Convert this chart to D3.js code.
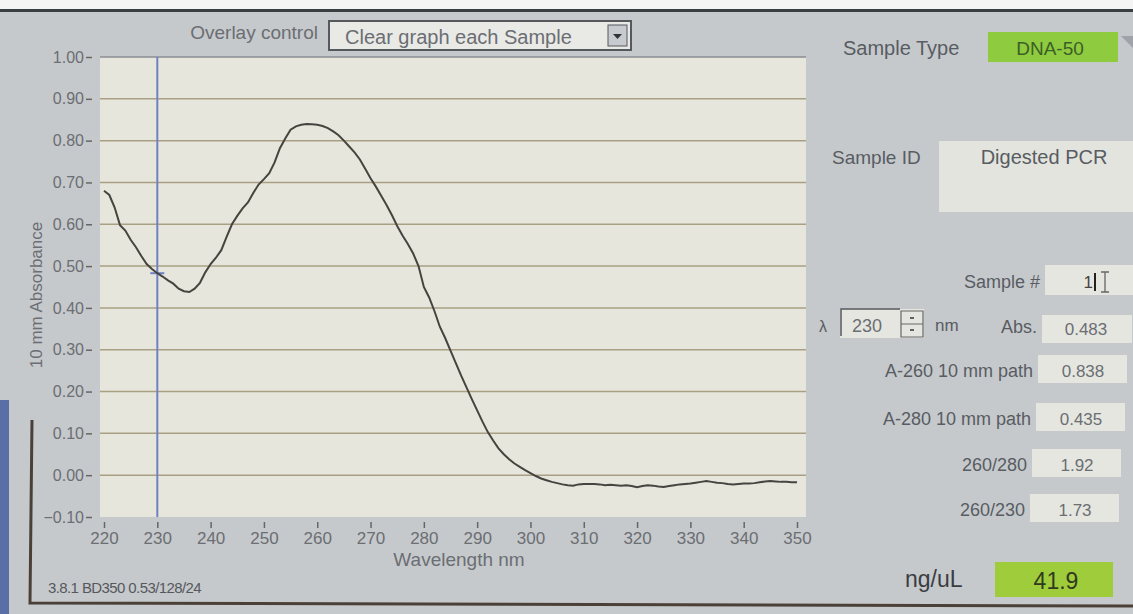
<!DOCTYPE html>
<html>
<head>
<meta charset="utf-8">
<title>NanoDrop spectrum</title>
<script src="https://cdn.jsdelivr.net/npm/d3@7"></script>
<style>
  body { margin: 0; background: #c6c9cc; }
  svg { display: block; font-family: "Liberation Sans", Arial, sans-serif; }
</style>
</head>
<body>
<script>
// Width and Height
var w = 1133;
var h = 614;

// wavelengths 220..350 nm, one reading per nm
var wavelengths = d3.range(220, 351);
var absorbance = [
  0.680, 0.670, 0.640, 0.598, 0.585, 0.563, 0.545, 0.524, 0.505, 0.493,
  0.483, 0.475, 0.466, 0.458, 0.446, 0.440, 0.438, 0.446, 0.460, 0.485,
  0.505, 0.520, 0.538, 0.570, 0.600, 0.620, 0.638, 0.652, 0.675, 0.695,
  0.708, 0.722, 0.748, 0.782, 0.805, 0.826, 0.834, 0.838, 0.840, 0.839,
  0.838, 0.835, 0.830, 0.822, 0.813, 0.800, 0.786, 0.772, 0.755, 0.733,
  0.710, 0.690, 0.668, 0.646, 0.622, 0.596, 0.573, 0.553, 0.530, 0.500,
  0.450, 0.425, 0.392, 0.355, 0.328, 0.298, 0.268, 0.238, 0.210, 0.182,
  0.155, 0.128, 0.103, 0.083, 0.064, 0.050, 0.038, 0.028, 0.020, 0.012,
  0.005, -0.002, -0.008, -0.012, -0.016, -0.019, -0.022, -0.024, -0.025, -0.022,
  -0.021, -0.021, -0.021, -0.022, -0.024, -0.023, -0.024, -0.025, -0.024, -0.026,
  -0.029, -0.026, -0.024, -0.025, -0.027, -0.028, -0.026, -0.024, -0.022, -0.021,
  -0.020, -0.018, -0.016, -0.014, -0.016, -0.018, -0.019, -0.021, -0.022, -0.021,
  -0.020, -0.020, -0.019, -0.017, -0.015, -0.014, -0.015, -0.016, -0.016, -0.017,
  -0.017
];

var xTicks = [220, 230, 240, 250, 260, 270, 280, 290, 300, 310, 320, 330, 340, 350];
var yTicks = [-0.10, 0.00, 0.10, 0.20, 0.30, 0.40, 0.50, 0.60, 0.70, 0.80, 0.90, 1.00];
var cursorNm = 230;

// readout panel
var readLabels = ["A-260 10 mm path", "A-280 10 mm path", "260/280", "260/230"];
var readValues = ["0.838", "0.435", "1.92", "1.73"];
var absValue = "0.483";
var concValue = "41.9";
var sampleType = "DNA-50";
var sampleId = "Digested PCR";
var sampleNum = "1";
var overlayChoice = "Clear graph each Sample";
var footer = "3.8.1 BD350 0.53/128/24";

var plot = {left: 100, right: 806, top: 57, bottom: 517};
var labelColor = "#585c63";
var valueColor = "#6b6e73";

var svg = d3.select("body")
            .append("svg")
            .attr("width", w)
            .attr("height", h);

// screen frame (photo edges)
svg.append("rect").attr("x", 0).attr("y", 0).attr("width", w).attr("height", 9).attr("fill", "#f4f4f4");
svg.append("rect").attr("x", 0).attr("y", 9).attr("width", w).attr("height", 3).attr("fill", "#3a3d42");
svg.append("rect").attr("x", 0).attr("y", 400).attr("width", 9).attr("height", 214).attr("fill", "#5a6fa8");
svg.append("path")
   .attr("d", "M32,420 L30,603 L1133,606")
   .attr("fill", "none").attr("stroke", "#4a4038").attr("stroke-width", 3);

var x = d3.scaleLinear().domain([220, 350]).range([plot.left + 4, 797]);
var y = d3.scaleLinear().domain([-0.10, 1.00]).range([plot.bottom, plot.top]);

// plot background
svg.append("rect")
   .attr("x", plot.left).attr("y", plot.top)
   .attr("width", plot.right - plot.left).attr("height", plot.bottom - plot.top)
   .attr("fill", "#e7e6dd");
svg.append("line")
   .attr("x1", plot.left).attr("x2", plot.right)
   .attr("y1", plot.top).attr("y2", plot.top)
   .attr("stroke", "#8a8d92").attr("stroke-width", 1.5);

// gridlines
svg.selectAll("line.grid")
   .data(yTicks.filter(function(d) { return d > -0.1 && d < 1.0; }))
   .enter()
   .append("line")
   .attr("class", "grid")
   .attr("x1", plot.left).attr("x2", plot.right)
   .attr("y1", function(d) { return y(d); })
   .attr("y2", function(d) { return y(d); })
   .attr("stroke", "#a9a084")
   .attr("stroke-width", 1.5);

// y axis
var yAxis = svg.append("g")
   .attr("transform", "translate(" + (plot.left - 14) + ",0)")
   .call(d3.axisRight(y).tickValues(yTicks).tickSize(6).tickFormat(d3.format(".2f")));
yAxis.select(".domain").remove();
yAxis.selectAll("line").attr("stroke", "#666").attr("stroke-width", 1.5);
yAxis.selectAll("text")
   .attr("text-anchor", "end")
   .attr("x", -2)
   .attr("font-size", "16px")
   .attr("fill", valueColor)
   .attr("font-family", "Liberation Sans, Arial, sans-serif");

// x axis
var xAxis = svg.append("g")
   .attr("transform", "translate(0," + (plot.bottom + 5) + ")")
   .call(d3.axisBottom(x).tickValues(xTicks).tickSize(6).tickPadding(4));
xAxis.select(".domain").remove();
xAxis.selectAll("line").attr("stroke", "#666").attr("stroke-width", 1.5);
xAxis.selectAll("text")
   .attr("font-size", "17px")
   .attr("fill", valueColor)
   .attr("font-family", "Liberation Sans, Arial, sans-serif");

svg.append("text")
   .attr("x", 459).attr("y", 566)
   .attr("text-anchor", "middle")
   .attr("font-size", "19px").attr("fill", valueColor)
   .text("Wavelength nm");

svg.append("text")
   .attr("transform", "translate(42,295) rotate(-90)")
   .attr("text-anchor", "middle")
   .attr("font-size", "17px").attr("fill", valueColor)
   .text("10 mm Absorbance");

// cursor line
svg.append("line")
   .attr("x1", x(cursorNm)).attr("x2", x(cursorNm))
   .attr("y1", plot.top).attr("y2", plot.bottom)
   .attr("stroke", "#6f80c4").attr("stroke-width", 2);
var cursorAbs = absorbance[wavelengths.indexOf(cursorNm)];
svg.append("line")
   .attr("x1", x(cursorNm) - 7).attr("x2", x(cursorNm) + 7)
   .attr("y1", y(cursorAbs)).attr("y2", y(cursorAbs))
   .attr("stroke", "#6f80c4").attr("stroke-width", 2);

// spectrum
var line = d3.line()
   .x(function(d, i) { return x(wavelengths[i]); })
   .y(function(d) { return y(d); });

svg.append("path")
   .datum(absorbance)
   .attr("d", line)
   .attr("fill", "none")
   .attr("stroke", "#45443f")
   .attr("stroke-width", 2);

// overlay control
svg.append("text")
   .attr("x", 318).attr("y", 39)
   .attr("text-anchor", "end")
   .attr("font-size", "19px").attr("fill", valueColor)
   .text("Overlay control");
svg.append("rect")
   .attr("x", 329).attr("y", 21).attr("width", 302).attr("height", 29)
   .attr("fill", "#e9e9e6").attr("stroke", "#55585d").attr("stroke-width", 2);
svg.append("text")
   .attr("x", 345).attr("y", 44)
   .attr("font-size", "20px").attr("fill", valueColor)
   .text(overlayChoice);
svg.append("rect")
   .attr("x", 608).attr("y", 25).attr("width", 19).attr("height", 21)
   .attr("fill", "#c7cacf").attr("stroke", "#55585d").attr("stroke-width", 1);
svg.append("path")
   .attr("d", "M613,34 L622,34 L617.5,39 Z")
   .attr("fill", "#333");

// sample type
svg.append("text")
   .attr("x", 843).attr("y", 55)
   .attr("font-size", "20px").attr("fill", labelColor)
   .text("Sample Type");
svg.append("rect")
   .attr("x", 988).attr("y", 32).attr("width", 130).attr("height", 30)
   .attr("fill", "#8fcb3e");
svg.append("text")
   .attr("x", 1050).attr("y", 55)
   .attr("text-anchor", "middle")
   .attr("font-size", "19px").attr("fill", "#3d5e28")
   .text(sampleType);
svg.append("path")
   .attr("d", "M1121,36 L1133,36 L1133,48 Z")
   .attr("fill", "#9ea3aa");

// sample id
svg.append("text")
   .attr("x", 832).attr("y", 164)
   .attr("font-size", "19px").attr("fill", labelColor)
   .text("Sample ID");
svg.append("rect")
   .attr("x", 939).attr("y", 141).attr("width", 194).attr("height", 71)
   .attr("fill", "#e3e4de");
svg.append("text")
   .attr("x", 1044).attr("y", 164)
   .attr("text-anchor", "middle")
   .attr("font-size", "20px").attr("fill", labelColor)
   .text(sampleId);

// sample #
svg.append("text")
   .attr("x", 1040).attr("y", 288)
   .attr("text-anchor", "end")
   .attr("font-size", "18px").attr("fill", labelColor)
   .text("Sample #");
svg.append("rect")
   .attr("x", 1045).attr("y", 265).attr("width", 88).attr("height", 30)
   .attr("fill", "#e6e6e0");
svg.append("text")
   .attr("x", 1093).attr("y", 288)
   .attr("text-anchor", "end")
   .attr("font-size", "17px").attr("fill", "#444")
   .text(sampleNum);
svg.append("line")
   .attr("x1", 1095).attr("x2", 1095).attr("y1", 273).attr("y2", 291)
   .attr("stroke", "#222").attr("stroke-width", 2);
svg.append("path")
   .attr("d", "M1101,272 L1109,272 M1105,272 L1105,292 M1101,292 L1109,292")
   .attr("fill", "none").attr("stroke", "#666").attr("stroke-width", 1.3);

// lambda selector
svg.append("text")
   .attr("x", 819).attr("y", 332)
   .attr("font-size", "16px").attr("fill", labelColor)
   .text("λ");
svg.append("rect")
   .attr("x", 840).attr("y", 309).attr("width", 84).attr("height", 29)
   .attr("fill", "#e6e6e0");
svg.append("path")
   .attr("d", "M841,336 L841,309 L900,309")
   .attr("fill", "none").attr("stroke", "#55585d").attr("stroke-width", 1.5);
svg.append("text")
   .attr("x", 852).attr("y", 332)
   .attr("font-size", "18px").attr("fill", valueColor)
   .text(String(cursorNm));
svg.append("path")
   .attr("d", "M901,311 L923,311 L923,337 L901,337 Z M901,324 L923,324")
   .attr("fill", "none").attr("stroke", "#666").attr("stroke-width", 1.2);
svg.append("path")
   .attr("d", "M910,318 L914,318 M910,330 L914,330")
   .attr("stroke", "#333").attr("stroke-width", 1.5);
svg.append("text")
   .attr("x", 935).attr("y", 331)
   .attr("font-size", "17px").attr("fill", labelColor)
   .text("nm");
svg.append("text")
   .attr("x", 1037).attr("y", 333)
   .attr("text-anchor", "end")
   .attr("font-size", "18px").attr("fill", labelColor)
   .text("Abs.");
svg.append("rect")
   .attr("x", 1042).attr("y", 315).attr("width", 90).attr("height", 28)
   .attr("fill", "#e6e6e0");
svg.append("text")
   .attr("x", 1086).attr("y", 335)
   .attr("text-anchor", "middle")
   .attr("font-size", "17px").attr("fill", valueColor)
   .text(absValue);

// readouts
var rowY = [377, 425, 471, 516];
var rowRight = [1033, 1031, 1027, 1025];
var boxX = [1038, 1036, 1032, 1030];
readLabels.forEach(function(label, i) {
    svg.append("text")
       .attr("x", rowRight[i]).attr("y", rowY[i])
       .attr("text-anchor", "end")
       .attr("font-size", "18px").attr("fill", labelColor)
       .text(label);
    svg.append("rect")
       .attr("x", boxX[i]).attr("y", rowY[i] - 22)
       .attr("width", 89).attr("height", 28)
       .attr("fill", "#e6e6e0");
    svg.append("text")
       .attr("x", boxX[i] + 45).attr("y", rowY[i])
       .attr("text-anchor", "middle")
       .attr("font-size", "17px").attr("fill", valueColor)
       .text(readValues[i]);
});

// concentration
svg.append("text")
   .attr("x", 905).attr("y", 587)
   .attr("font-size", "23px").attr("fill", "#3a3d42")
   .text("ng/uL");
svg.append("rect")
   .attr("x", 995).attr("y", 562).attr("width", 118).attr("height", 35)
   .attr("fill", "#9fcc3b");
svg.append("text")
   .attr("x", 1056).attr("y", 589)
   .attr("text-anchor", "middle")
   .attr("font-size", "23px").attr("fill", "#2f3a1e")
   .text(concValue);

// footer
svg.append("text")
   .attr("x", 48).attr("y", 593)
   .attr("font-size", "15px").attr("fill", "#55585d")
   .attr("letter-spacing", "-0.6px")
   .text(footer);
</script>
</body>
</html>
